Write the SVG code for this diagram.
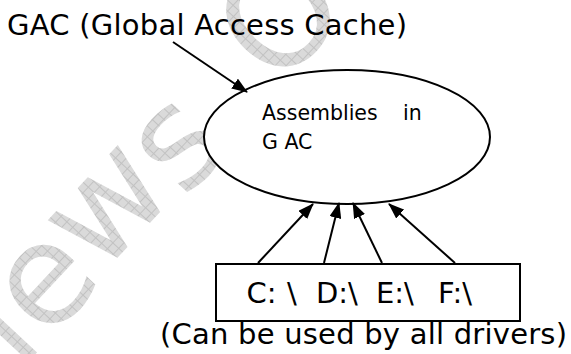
<svg xmlns="http://www.w3.org/2000/svg" width="571" height="354" viewBox="0 0 571 354">
  <defs>
    <style>
      .lbl { font-family: "DejaVu Sans", Verdana, sans-serif; fill: #000; white-space: pre; }
      .big { font-size: 29px; }
      .small { font-size: 20.5px; }
      .shape { fill: #fff; stroke: #000; stroke-width: 2; }
      .edge { fill: none; stroke: #000; stroke-width: 2; marker-end: url(#head); }
      .mark { font-family: "DejaVu Sans", Verdana, sans-serif; font-size: 140px; fill: url(#hatch); text-anchor: middle; }
    </style>
    <!-- light cross-hatched fill for the background stamp -->
    <pattern id="hatch" width="8" height="8" patternUnits="userSpaceOnUse">
      <rect width="8" height="8" fill="#dadada"/>
      <path d="M0 0.5H8M0.5 0V8" stroke="#c2c2c2" stroke-width="1"/>
    </pattern>
    <marker id="head" viewBox="0 0 16 12" refX="15" refY="6" markerWidth="16" markerHeight="12" markerUnits="userSpaceOnUse" orient="auto">
      <path d="M0 0L16 6L0 12z" fill="#000"/>
    </marker>
  </defs>

  <rect width="571" height="354" fill="#fff"/>

  <!-- background stamp, one glyph per element, each centred on its spot -->
  <g id="stamp">
    <text class="mark" transform="translate(5,331) rotate(-47)" y="38">i</text>
    <text class="mark" transform="translate(48,285) rotate(-47)" y="38">e</text>
    <text class="mark" transform="translate(111,209) rotate(-47)" y="38">w</text>
    <text class="mark" transform="translate(181,147) rotate(-47)" y="38">s</text>
    <text class="mark" transform="translate(278,15) rotate(-47)" y="51">O</text>
  </g>

  <g id="gac-node">
    <ellipse class="shape" cx="347" cy="137" rx="143" ry="67"/>
    <text class="lbl small" x="262" y="120">Assemblies<tspan x="403">in</tspan></text>
    <text class="lbl small" x="262" y="149">G AC</text>
  </g>

  <g id="title">
    <text class="lbl big" x="7" y="35" textLength="400" lengthAdjust="spacing">GAC (Global Access Cache)</text>
  </g>

  <g id="drives-node">
    <rect class="shape" x="216" y="264" width="304" height="57"/>
    <text class="lbl big" y="303"><tspan x="246.5">C:</tspan><tspan x="287">\</tspan><tspan x="316">D:\</tspan><tspan x="376">E:\</tspan><tspan x="438">F:\</tspan></text>
  </g>

  <g id="caption">
    <text class="lbl big" x="160" y="344" textLength="407" lengthAdjust="spacing">(Can be used by all drivers)</text>
  </g>

  <g id="connectors">
    <line class="edge" x1="173" y1="42" x2="247" y2="92"/>
    <line class="edge" x1="258" y1="263" x2="313" y2="204"/>
    <line class="edge" x1="324" y1="263" x2="339" y2="203"/>
    <line class="edge" x1="382" y1="263" x2="353" y2="203"/>
    <line class="edge" x1="455" y1="263" x2="389" y2="204"/>
  </g>
</svg>
